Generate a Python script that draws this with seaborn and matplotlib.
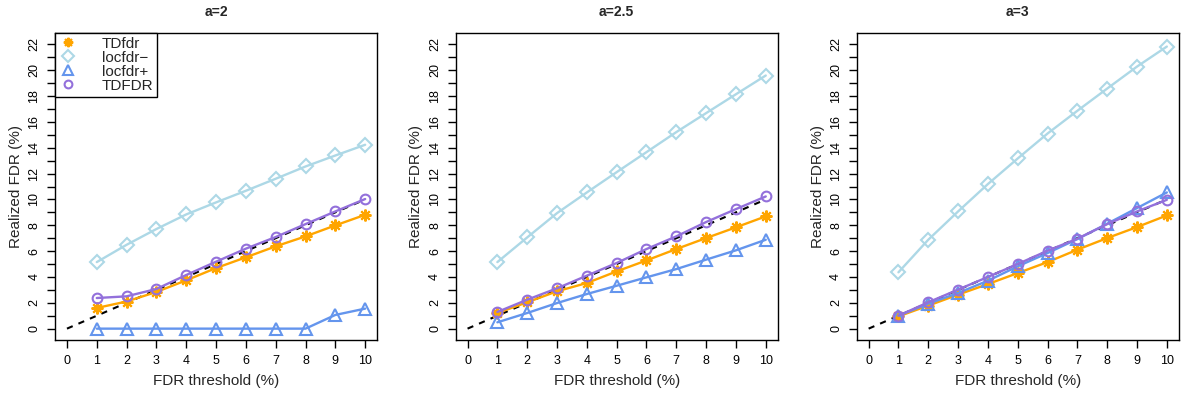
import numpy as np
import pandas as pd
import seaborn as sns
import matplotlib
matplotlib.use("Agg")
import matplotlib.pyplot as plt
from matplotlib.lines import Line2D

# FDR thresholds (%)
thresh = [1, 2, 3, 4, 5, 6, 7, 8, 9, 10]
panel_titles = ["a=2", "a=2.5", "a=3"]
series_names = ["TDfdr", "locfdr\u2212", "locfdr+", "TDFDR"]

# a=2
tdfdr_a2 = [1.6, 2.1, 2.84, 3.74, 4.69, 5.52, 6.37, 7.14, 7.99, 8.81]
locm_a2 = [5.15, 6.49, 7.71, 8.84, 9.77, 10.67, 11.6, 12.55, 13.4, 14.23]
locp_a2 = [0, 0, 0, 0, 0, 0, 0, 0, 1.06, 1.55]
TDFDR_a2 = [2.37, 2.5, 3.07, 4.15, 5.18, 6.19, 7.09, 8.09, 9.07, 10.03]

# a=2.5
tdfdr_a25 = [1.21, 2.04, 2.89, 3.53, 4.43, 5.28, 6.16, 7.01, 7.84, 8.69]
locm_a25 = [5.15, 7.06, 8.94, 10.54, 12.11, 13.66, 15.21, 16.68, 18.14, 19.59]
locp_a25 = [0.49, 1.21, 1.98, 2.68, 3.32, 3.97, 4.61, 5.34, 6.06, 6.88]
TDFDR_a25 = [1.29, 2.24, 3.12, 4.1, 5.08, 6.16, 7.14, 8.25, 9.25, 10.23]

# a=3
tdfdr_a3 = [0.95, 1.78, 2.63, 3.45, 4.3, 5.15, 6.11, 7.01, 7.86, 8.76]
locm_a3 = [4.36, 6.88, 9.07, 11.19, 13.17, 15.1, 16.86, 18.58, 20.28, 21.83]
locp_a3 = [1.0, 1.93, 2.76, 3.71, 4.82, 5.85, 6.93, 8.12, 9.33, 10.54]
TDFDR_a3 = [1.0, 2.04, 3.02, 4.0, 5.0, 6.03, 6.96, 8.09, 9.07, 9.97]

panels = [
    [tdfdr_a2, locm_a2, locp_a2, TDFDR_a2],
    [tdfdr_a25, locm_a25, locp_a25, TDFDR_a25],
    [tdfdr_a3, locm_a3, locp_a3, TDFDR_a3],
]

colors = ["#FFA500", "#ADD8E6", "#6495ED", "#9370DB"]
markers = [(8, 2, 0), "D", "^", "o"]
msizes = [8.5, 7.5, 8.5, 7]

sns.set_style("ticks")
plt.rcParams["font.family"] = ["Liberation Sans", "DejaVu Sans"]

fig = plt.figure(figsize=(11.81, 3.98), dpi=100)
lefts = [0.0466, 0.3858, 0.7254]

for i, (left, vals) in enumerate(zip(lefts, panels)):
    ax = fig.add_axes([left, 0.1457, 0.2727, 0.7714])
    # identity line
    ax.plot([0, 10], [0, 10], color="black", linestyle=(0, (3, 3)), linewidth=1.5)
    for name, v, c, m, ms in zip(series_names, vals, colors, markers, msizes):
        df = pd.DataFrame({"x": thresh, "y": v})
        sns.lineplot(data=df, x="x", y="y", ax=ax, color=c, linewidth=1.7,
                     marker=m, markersize=ms, markerfacecolor="none",
                     markeredgecolor=c, markeredgewidth=1.5)
    ax.set_xlim(-0.4, 10.4)
    ax.set_ylim(-0.88, 22.88)
    ax.set_xticks(range(0, 11))
    ax.set_yticks(range(0, 23))
    ax.set_yticklabels([str(k) if k % 2 == 0 else "" for k in range(0, 23)],
                       rotation=90, va="center")
    ax.tick_params(axis="both", direction="out", length=5.5, width=1,
                   labelsize=9, colors="black", pad=5)
    for s in ax.spines.values():
        s.set_linewidth(1)
        s.set_color("black")
    ax.set_xlabel("FDR threshold (%)", fontsize=11, labelpad=5)
    ax.set_ylabel("Realized FDR (%)", fontsize=11, labelpad=4)
    ax.set_title(panel_titles[i], fontsize=10, fontweight="bold", pad=12)

    if i == 0:
        handles = [Line2D([], [], linestyle="none", marker=m, markersize=ms * 0.8,
                          markerfacecolor="none", markeredgecolor=c,
                          markeredgewidth=1.5)
                   for c, m, ms in zip(colors, markers, msizes)]
        leg = ax.legend(handles, series_names, loc="upper left",
                        borderaxespad=0, fancybox=False, framealpha=1,
                        edgecolor="black", fontsize=11, labelspacing=0.0,
                        handletextpad=1.6, handlelength=1.2,
                        borderpad=0.25)
        leg.get_frame().set_linewidth(1)

fig.savefig("out.png", dpi=100)
